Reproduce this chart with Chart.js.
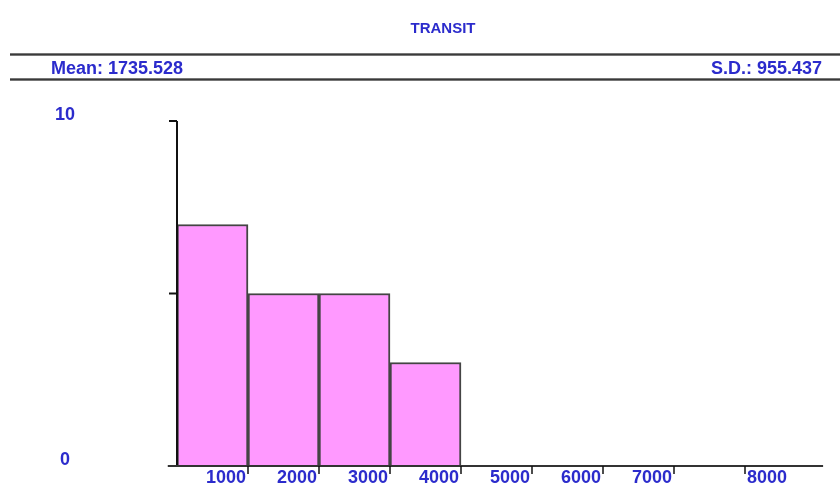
<!DOCTYPE html>
<html>
<head>
<meta charset="utf-8">
<title>TRANSIT</title>
<script src="https://cdn.jsdelivr.net/npm/chart.js@4/dist/chart.umd.min.js"></script>
<style>
  html, body { margin: 0; padding: 0; background: #fff; }
  #wrap { width: 840px; height: 484px; }
</style>
</head>
<body>
<div id="wrap"><canvas id="histChart" width="840" height="484"></canvas></div>
<script>
// === Data ===
const binStarts = [0, 1000, 2000, 3000, 4000, 5000, 6000, 7000];
const binCounts = [7, 5, 5, 3, 0, 0, 0, 0];
const binWidth = 1000;
const xTicks = [1000, 2000, 3000, 4000, 5000, 6000, 7000, 8000];
const yTicks = [0, 5, 10];
const yTickLabels = ["0", "", "10"];
const chartTitle = "TRANSIT";
const meanText = "Mean: 1735.528";
const sdText = "S.D.: 955.437";

(function () {
  const blue = "#2b2bcc";
  const font = 'bold 18px "Liberation Sans", Arial, sans-serif';

  // === Axes, header and labels drawn on top of the bars ===
  const decor = {
    id: "decor",
    afterDraw(chart) {
      const ctx = chart.ctx;
      const x = chart.scales.x;
      const y = chart.scales.y;
      const x0 = x.getPixelForValue(0);
      const y0 = y.getPixelForValue(0);
      ctx.save();

      // header rules
      [55, 80].forEach(ry => {
        ctx.fillStyle = "#777";
        ctx.fillRect(10, ry - 2, 830, 3);
        ctx.fillStyle = "#3a3a3a";
        ctx.fillRect(10, ry - 1, 830, 1);
      });

      ctx.fillStyle = blue;
      ctx.font = 'bold 15px "Liberation Sans", Arial, sans-serif';
      ctx.textAlign = "center";
      ctx.textBaseline = "alphabetic";
      ctx.fillText(chartTitle, 443, 33);

      ctx.font = font;
      ctx.textAlign = "left";
      ctx.fillText(meanText, 51, 74);
      ctx.textAlign = "right";
      ctx.fillText(sdText, 822, 74);

      // y axis
      ctx.strokeStyle = "#111";
      ctx.lineWidth = 2;
      ctx.beginPath();
      ctx.moveTo(x0, y.getPixelForValue(10));
      ctx.lineTo(x0, y0);
      ctx.stroke();
      yTicks.forEach((v, i) => {
        const py = y.getPixelForValue(v);
        if (v > 0) {
          ctx.beginPath();
          ctx.moveTo(x0 - 8, py);
          ctx.lineTo(x0, py);
          ctx.stroke();
        }
        if (yTickLabels[i]) {
          ctx.textAlign = "center";
          ctx.fillText(yTickLabels[i], 65, py - 1);
        }
      });

      // x axis
      ctx.strokeStyle = "#333";
      ctx.beginPath();
      ctx.moveTo(x.getPixelForValue(-130), y0);
      ctx.lineTo(x.getPixelForValue(9100), y0);
      ctx.stroke();
      ctx.strokeStyle = "#111";
      ctx.lineWidth = 1.5;
      xTicks.forEach((v, i) => {
        const px = x.getPixelForValue(v);
        ctx.beginPath();
        ctx.moveTo(px, y0);
        ctx.lineTo(px, y0 + 8);
        ctx.stroke();
        const last = i === xTicks.length - 1;
        ctx.textAlign = last ? "left" : "right";
        ctx.fillText(String(v), last ? px + 2 : px - 2, 483);
      });

      ctx.restore();
    }
  };

  new Chart(document.getElementById("histChart"), {
    type: "bar",
    data: {
      datasets: [{
        data: binStarts.map((s, i) => ({ x: s + binWidth / 2, y: binCounts[i] })),
        backgroundColor: "#ff99ff",
        borderColor: "#444",
        borderWidth: 2,
        barPercentage: 1,
        categoryPercentage: 1
      }]
    },
    options: {
      responsive: false,
      animation: false,
      layout: { padding: { left: 177, right: 24, top: 121, bottom: 18 } },
      plugins: { legend: { display: false }, tooltip: { enabled: false } },
      scales: {
        x: { type: "linear", min: 0, max: 9000, offset: false, display: false },
        y: { min: 0, max: 10, display: false }
      }
    },
    plugins: [decor]
  });
})();
</script>
</body>
</html>
